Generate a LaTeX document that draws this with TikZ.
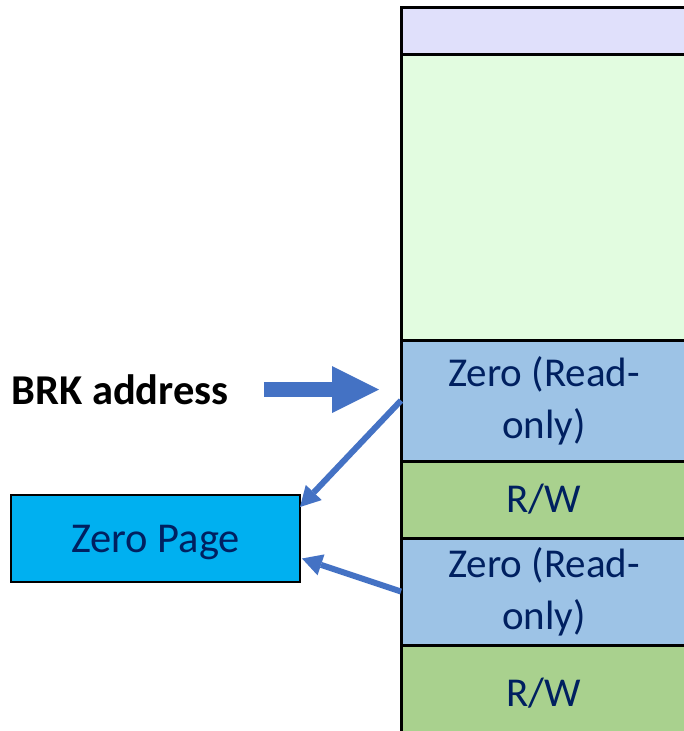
\documentclass[tikz,border=0pt]{standalone}
\usepackage{fontspec}
\setmainfont{Carlito}
\usetikzlibrary{arrows.meta}
\definecolor{navytext}{HTML}{002060}
\definecolor{lavender}{HTML}{E0E0FB}
\definecolor{mint}{HTML}{E2FCE0}
\definecolor{roblue}{HTML}{9DC3E6}
\definecolor{rwgreen}{HTML}{A9D18E}
\definecolor{zpblue}{HTML}{00B0F0}
\definecolor{arrowblue}{HTML}{4472C4}
\begin{document}
\begin{tikzpicture}[x=1pt,y=-1pt,
        cell/.style={draw=black,line width=3pt,minimum width=286pt,anchor=north west,
            inner sep=0pt,outer sep=0pt,text=navytext,align=center,
            font=\fontsize{41}{52}\selectfont},
        bigarrow/.style={draw=arrowblue,line width=15pt,
            -{Triangle[length=47pt,width=47pt,line width=0pt]}},
        thinarrow/.style={draw=arrowblue,line width=6pt,
            -{Triangle[length=20pt,width=22pt,line width=0pt]}}]
\useasboundingbox (0,0) rectangle (684,731);
\clip (0,0) rectangle (684,731);

% memory column
\node[cell,fill=lavender,minimum height=47pt] (top) at (401,7) {};
\node[cell,fill=mint,minimum height=286pt] (heap) at (401,54) {};
\node[cell,fill=roblue,minimum height=121pt] (ro1) at (401,340) {Zero (Read-\\only)};
\node[cell,fill=rwgreen,minimum height=77pt] (rw1) at (401,461) {R/W};
\node[cell,fill=roblue,minimum height=107pt] (ro2) at (401,538) {Zero (Read-\\only)};
\node[cell,fill=rwgreen,minimum height=96pt] (rw2) at (401,645) {R/W};

% zero page and brk
\node[draw=black,line width=2pt,fill=zpblue,minimum width=289pt,minimum height=87pt,
    inner sep=0pt,outer sep=0pt,text depth=0pt,text=navytext,
    font=\fontsize{42.5}{50}\selectfont]
    (zp) at (155.5,538.5) {Zero Page};
\node[font=\bfseries\fontsize{42.5}{50}\selectfont,inner sep=0pt] (brk) at (120,389.5) {BRK address};

\draw[bigarrow] ([xshift=35pt]brk.east) -- ([xshift=-22pt]brk.east -| ro1.west);
\draw[thinarrow] (ro1.west) -- ([yshift=-12pt]zp.north east);
\draw[thinarrow] (ro2.west) -- ([yshift=-20pt,xshift=2pt]zp.east);
\end{tikzpicture}
\end{document}
